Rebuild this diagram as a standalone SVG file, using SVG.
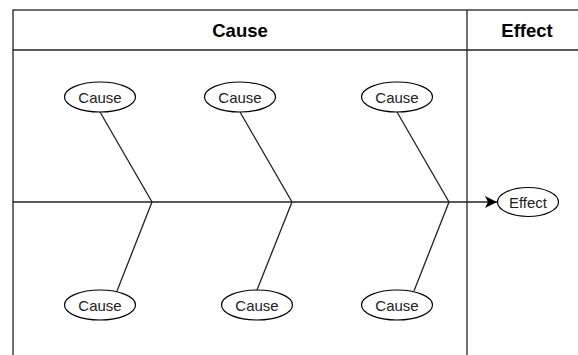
<svg xmlns="http://www.w3.org/2000/svg" width="578" height="355" viewBox="0 0 578 355">
<style>
.lane{fill:none;stroke:#222;stroke-width:1.3}
.hdr{font-family:"Liberation Sans",Arial,sans-serif;font-weight:bold;font-size:18.5px;fill:#000;text-anchor:middle;dominant-baseline:central}
.node ellipse{fill:#fff;stroke:#000;stroke-width:1.2}
.node text{font-family:"Liberation Sans",Arial,sans-serif;font-size:15px;fill:#222;text-anchor:middle;dominant-baseline:central}
.edge{fill:none;stroke:#222;stroke-width:1.3}
</style>
<defs>
<marker id="arr" viewBox="0 0 12 12" refX="12" refY="6" markerWidth="12" markerHeight="12" markerUnits="userSpaceOnUse" orient="auto">
<path d="M0,0 L12,6 L0,12 L3,6 Z" fill="#000"/>
</marker>
</defs>
<g id="lanes">
<rect class="lane" x="13" y="10" width="590" height="360"/>
<line class="lane" x1="13" y1="50" x2="578" y2="50"/>
<line class="lane" x1="467" y1="10" x2="467" y2="355"/>
<text class="hdr" x="240" y="30">Cause</text>
<text class="hdr" x="527" y="30">Effect</text>
</g>
<g id="connectors">
<line class="edge" x1="13" y1="202" x2="497" y2="202" marker-end="url(#arr)"/>
<polyline class="edge" points="100,112 152,202 117,291"/>
<polyline class="edge" points="240,112 292,202 257,290"/>
<polyline class="edge" points="397,112 449,202 414,291"/>
</g>
<g id="cause1" class="node"><ellipse cx="100" cy="97" rx="35.5" ry="15"/><text x="100" y="97">Cause</text></g>
<g id="cause2" class="node"><ellipse cx="240" cy="97" rx="35.5" ry="15"/><text x="240" y="97">Cause</text></g>
<g id="cause3" class="node"><ellipse cx="397" cy="97" rx="35.5" ry="15"/><text x="397" y="97">Cause</text></g>
<g id="cause4" class="node"><ellipse cx="100" cy="305" rx="35.5" ry="15"/><text x="100" y="305">Cause</text></g>
<g id="cause5" class="node"><ellipse cx="257" cy="305" rx="35.5" ry="15"/><text x="257" y="305">Cause</text></g>
<g id="cause6" class="node"><ellipse cx="397" cy="305" rx="35.5" ry="15"/><text x="397" y="305">Cause</text></g>
<g id="effect" class="node"><ellipse cx="528" cy="202" rx="30.5" ry="14.5"/><text x="528" y="202">Effect</text></g>
</svg>
